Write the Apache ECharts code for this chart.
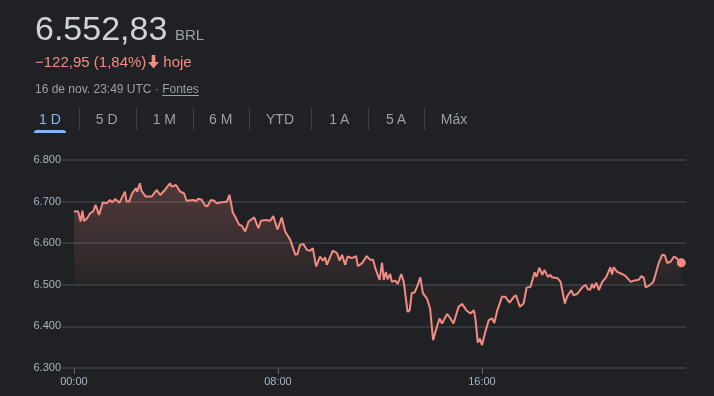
<!DOCTYPE html>
<html>
<head>
<meta charset="utf-8">
<script src="https://cdn.jsdelivr.net/npm/echarts@6/dist/echarts.min.js"></script>
<style>
  html, body { margin: 0; padding: 0; background: #202124; width: 714px; height: 396px; overflow: hidden; }
  body { font-family: "Liberation Sans", Arial, sans-serif; position: relative; }
  #chart { position: absolute; left: 0; top: 0; width: 714px; height: 396px; }
  .abs { position: absolute; white-space: nowrap; }
  #price { left: 35px; top: 10.5px; font-size: 34px; line-height: 34px; color: #cfd3d7; }
  #cur { left: 175px; top: 26.6px; font-size: 15px; line-height: 15px; color: #9aa0a6; }
  #chg { left: 35px; top: 54px; font-size: 15px; line-height: 15px; color: #f28b82; display: flex; align-items: center; }
  #chg svg { margin: 0 3px 0 1px; }
  #date { left: 35px; top: 82.5px; font-size: 12px; line-height: 12px; color: #9aa0a6; }
  #date u { text-underline-offset: 2px; }
  .tab { top: 112px; font-size: 14px; line-height: 14px; color: #9aa0a6; transform: translateX(-50%); }
  .tab.on { color: #8ab4f8; }
  .sep { top: 108px; width: 1px; height: 22px; background: #3c4043; }
  #bar { left: 34px; top: 130px; width: 32px; height: 3px; background: #8ab4f8; border-radius: 3px 3px 0 0; }
</style>
</head>
<body>
<div id="chart"></div>
<div id="header"></div>
<script>
// ---- data ----
const priceText = "6.552,83";
const currency = "BRL";
const changeText = "\u2212122,95 (1,84%)";
const changeSuffix = "hoje";
const dateText = "16 de nov. 23:49 UTC \u00b7 ";
const sourceText = "Fontes";
const tabs = ["1 D", "5 D", "1 M", "6 M", "YTD", "1 A", "5 A", "Máx"];

const yTicks = [6300, 6400, 6500, 6600, 6700, 6800];
const xTickLabels = ["00:00", "08:00", "16:00"];

const times = [
  "00:00","00:10","00:16","00:20","00:24","00:31","00:39","00:45","00:51","00:59",
  "01:08","01:17","01:25","01:30","01:37","01:47","02:00","02:04","02:10","02:17",
  "02:26","02:29","02:35","02:39","02:43","02:49","03:03","03:15","03:23","03:34",
  "03:46","03:50","04:00","04:10","04:19","04:25","04:41","04:47","04:53","05:01",
  "05:09","05:14","05:22","05:30","05:36","05:44","05:48","05:53","06:00","06:06",
  "06:14","06:19","06:29","06:35","06:43","06:51","07:04","07:14","07:20","07:32",
  "07:35","07:42","07:49","07:59","08:09","08:17","08:29","08:41","08:46","08:52",
  "09:00","09:08","09:16","09:22","09:30","09:39","09:46","09:51","09:55","10:09",
  "10:19","10:25","10:31","10:38","10:44","10:54","11:04","11:08","11:18","11:23",
  "11:29","11:37","11:44","11:49","11:59","12:05","12:09","12:14","12:18","12:24",
  "12:28","12:36","12:42","12:50","12:56","13:00","13:05","13:10","13:15","13:21",
  "13:27","13:35","13:41","13:51","13:58","14:05","14:14","14:20","14:26","14:38",
  "14:46","14:53","15:05","15:13","15:23","15:33","15:41","15:45","15:50","15:55",
  "16:00","16:08","16:16","16:24","16:29","16:36","16:39","16:47","16:55","17:05",
  "17:15","17:20","17:29","17:38","17:45","17:54","18:04","18:08","18:15","18:22",
  "18:27","18:35","18:41","18:45","18:58","19:05","19:15","19:20","19:30","19:35",
  "19:44","19:56","20:04","20:09","20:15","20:19","20:23","20:29","20:35","20:43",
  "20:52","21:02","21:06","21:10","21:18","21:30","21:38","21:50","21:57","22:09",
  "22:15","22:21","22:25","22:33","22:43","22:48","22:56","23:04","23:10","23:16",
  "23:24","23:32","23:38","23:43","23:49"
];
const values = [
  6677,6676,6652,6678,6653,6660,6673,6676,6692,6668,
  6698,6696,6704,6698,6706,6697,6724,6700,6700,6720,
  6732,6724,6744,6726,6729,6712,6712,6728,6716,6728,
  6744,6736,6740,6724,6720,6702,6704,6701,6707,6704,
  6690,6689,6704,6702,6696,6698,6694,6699,6700,6716,
  6673,6664,6644,6642,6628,6652,6662,6636,6654,6656,
  6660,6654,6665,6633,6662,6628,6608,6572,6574,6596,
  6598,6584,6582,6588,6544,6568,6558,6566,6548,6582,
  6576,6558,6572,6548,6568,6564,6569,6545,6552,6560,
  6569,6560,6560,6540,6512,6553,6512,6531,6513,6526,
  6507,6510,6502,6526,6507,6505,6435,6439,6481,6481,
  6494,6518,6480,6466,6443,6367,6399,6419,6407,6430,
  6419,6407,6447,6454,6439,6431,6439,6415,6361,6371,
  6355,6387,6415,6419,6408,6438,6435,6471,6471,6457,
  6471,6475,6447,6455,6493,6495,6530,6519,6541,6524,
  6536,6519,6524,6518,6516,6507,6455,6471,6487,6475,
  6478,6494,6500,6489,6489,6502,6492,6505,6487,6507,
  6518,6542,6525,6542,6531,6526,6521,6507,6510,6512,
  6521,6516,6494,6498,6507,6524,6553,6572,6571,6552,
  6556,6568,6564,6558,6552.83
];
const areaBase = 6500;

// ---- header (HTML text) ----
const header = document.getElementById('header');
function add(html, cls, id, style) {
  const d = document.createElement('div');
  d.className = 'abs' + (cls ? ' ' + cls : '');
  if (id) d.id = id;
  if (style) d.setAttribute('style', style);
  d.innerHTML = html;
  header.appendChild(d);
  return d;
}
add(priceText, '', 'price');
add(currency, '', 'cur');
add('<span>' + changeText + '</span><svg width="13" height="14" viewBox="0 0 12 13"><path fill="#f28b82" d="M4.3 0h3.4v6.6h3.3L6 12.6 1 6.6h3.3z"/></svg><span>' + changeSuffix + '</span>', '', 'chg');
add(dateText + '<u>' + sourceText + '</u>', '', 'date');
const tabCenters = [50, 106.7, 164.3, 220.7, 280, 339.3, 396, 454];
const sepX = [78.7, 135.7, 192.7, 249.3, 310.7, 367.7, 424.3];
tabs.forEach((t, i) => add(t, 'tab' + (i === 0 ? ' on' : ''), null, 'left:' + tabCenters[i] + 'px'));
sepX.forEach(x => add('', 'sep', null, 'left:' + x + 'px'));
add('', '', 'bar');

// ---- chart ----
const toMin = s => { const p = s.split(':'); return (+p[0]) * 60 + (+p[1]); };
const xTickValues = xTickLabels.map(toMin);
const seriesData = times.map((t, i) => [toMin(t), values[i]]);
const last = seriesData[seriesData.length - 1];

const chart = echarts.init(document.getElementById('chart'), null, { renderer: 'canvas' });
const labelColor = '#a9b4c0';
chart.setOption({
  backgroundColor: 'transparent',
  animation: false,
  grid: { left: 62, right: 28, top: 160, bottom: 28, containLabel: false },
  xAxis: {
    type: 'value',
    min: -28,
    max: 1440,
    axisLine: { show: false },
    splitLine: { show: false },
    axisTick: { show: true, customValues: xTickValues, length: 6, lineStyle: { color: '#5f6368', width: 1 } },
    axisLabel: {
      customValues: xTickValues,
      formatter: v => xTickLabels[xTickValues.indexOf(v)] || '',
      color: labelColor, fontSize: 11, fontFamily: 'Liberation Sans, Arial, sans-serif', margin: 8
    }
  },
  yAxis: {
    type: 'value',
    min: yTicks[0],
    max: yTicks[yTicks.length - 1],
    interval: 100,
    axisLine: { show: false },
    axisTick: { show: false },
    splitLine: { show: true, lineStyle: { color: '#3c4043', width: 1.5 } },
    axisLabel: {
      formatter: v => (v / 1000).toFixed(3),
      color: labelColor, fontSize: 11, fontFamily: 'Liberation Sans, Arial, sans-serif', margin: 1
    }
  },
  series: [
    {
      type: 'line',
      data: seriesData,
      showSymbol: false,
      symbol: 'none',
      lineStyle: { color: '#f28b82', width: 2 },
      areaStyle: {
        origin: areaBase,
        opacity: 1,
        color: {
          type: 'linear', x: 0, y: 180, x2: 0, y2: 286, global: true,
          colorStops: [
            { offset: 0, color: 'rgba(242,139,130,0.24)' },
            { offset: 0.6, color: 'rgba(242,139,130,0.12)' },
            { offset: 1, color: 'rgba(242,139,130,0.03)' }
          ]
        }
      },
      z: 3
    },
    {
      type: 'scatter',
      data: [last],
      symbolSize: 9,
      itemStyle: { color: '#f28b82', opacity: 1 },
      z: 4
    }
  ]
});
</script>
</body>
</html>
